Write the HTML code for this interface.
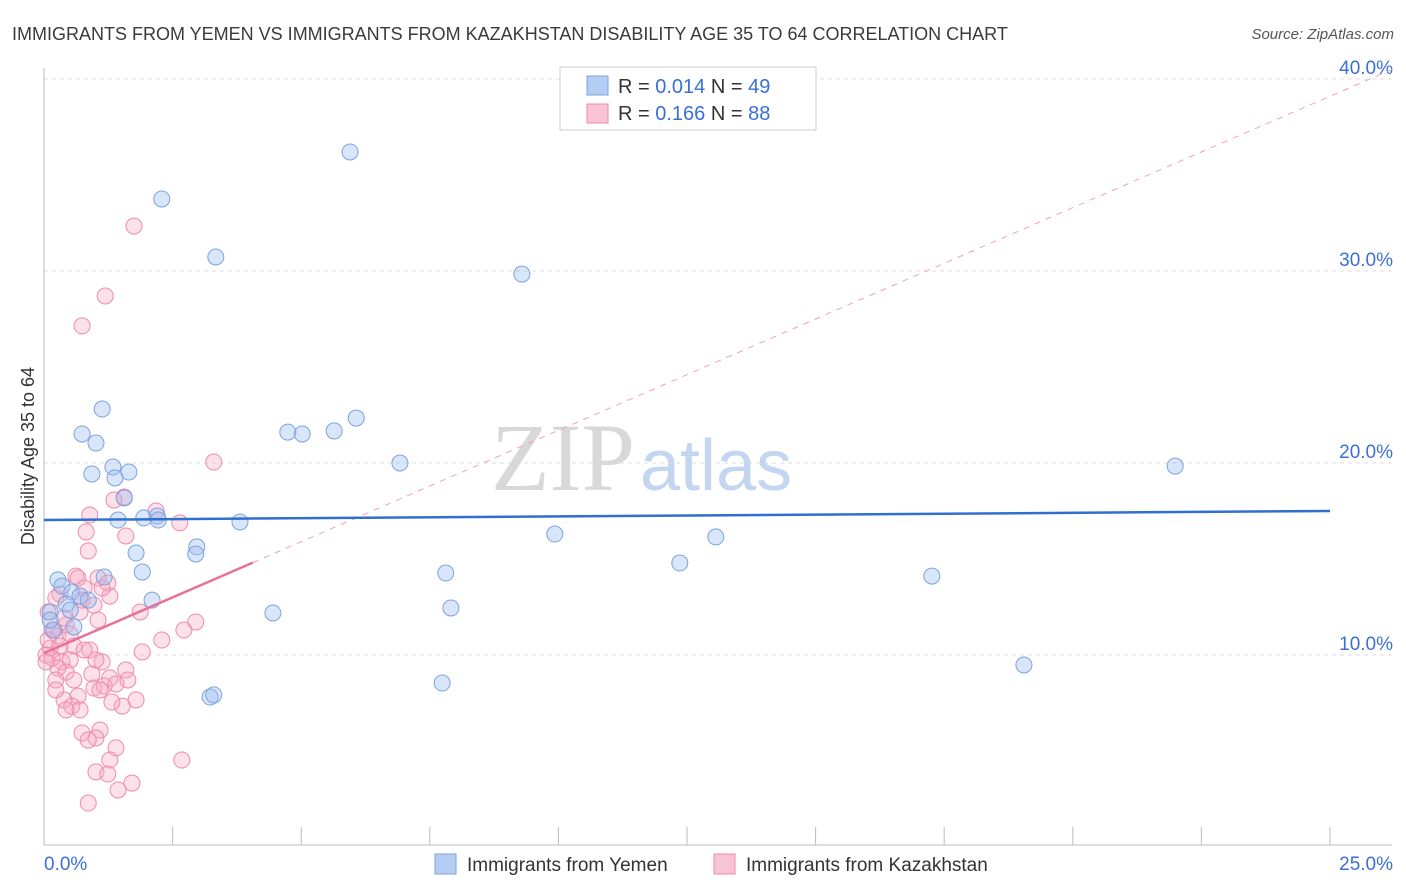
<!DOCTYPE html>
<html><head><meta charset="utf-8"><style>
body{margin:0;background:#fff;font-family:"Liberation Sans",sans-serif;}
svg{display:block}
</style></head><body>
<svg id="chart" width="1406" height="892">
<text x="12" y="40" font-size="18" fill="#3a3a3a">IMMIGRANTS FROM YEMEN VS IMMIGRANTS FROM KAZAKHSTAN DISABILITY AGE 35 TO 64 CORRELATION CHART</text>
<text x="1394" y="39" font-size="15" fill="#555" font-style="italic" text-anchor="end">Source: ZipAtlas.com</text>
<g>
<text x="635" y="490" font-size="96" font-family="Liberation Serif,serif" fill="#d8d8d8" text-anchor="end">ZIP</text>
<text x="640" y="490" font-size="72" fill="#c4d6ef" >atlas</text>
</g>
<g id="grid"></g>
<g id="axes"></g>
<g id="marks"></g>
<text transform="translate(34,456) rotate(-90)" font-size="18" fill="#333" text-anchor="middle">Disability Age 35 to 64</text>
<g>
<rect x="560" y="67" width="256" height="63" fill="#fff" stroke="#ccc"/>
<rect x="587" y="76" width="21" height="19" fill="#b6cdf3" stroke="#7aa3e0"/>
<rect x="587" y="104" width="21" height="19" fill="#f8c3d4" stroke="#f08aaa"/>
<text x="618" y="93" font-size="20" fill="#333">R = <tspan fill="#3a6fd8">0.014</tspan>   N = <tspan fill="#3a6fd8">49</tspan></text>
<text x="618" y="120" font-size="20" fill="#333">R =  <tspan fill="#3a6fd8">0.166</tspan>   N = <tspan fill="#3a6fd8">88</tspan></text>
</g>
<g>
<rect x="435" y="854" width="21" height="20" fill="#b6cdf3" stroke="#7aa3e0"/>
<text x="467" y="871" font-size="19" fill="#333">Immigrants from Yemen</text>
<rect x="714" y="854" width="21" height="20" fill="#f8c3d4" stroke="#f08aaa"/>
<text x="746" y="871" font-size="19" fill="#333">Immigrants from Kazakhstan</text>
</g>
</svg>
<script>
const yTicks=[10,20,30,40];
const yTickLabels=["10.0%","20.0%","30.0%","40.0%"];
const xTicks=[0,2.5,5,7.5,10,12.5,15,17.5,20,22.5,25];
const xTickLabels=["0.0%","25.0%"];
const blueX=[5.95,2.29,3.34,9.29,1.13,0.74,1.01,4.74,5.02,5.64,6.07,6.92,21.99,0.93,1.34,1.65,1.38,1.56,1.44,1.94,2.2,2.22,3.81,9.93,13.06,1.79,2.97,2.95,12.36,1.91,1.17,0.27,7.81,17.26,0.35,0.54,0.7,0.86,2.1,0.43,0.51,7.91,4.45,0.12,0.58,0.19,19.05,7.74,3.23,3.3,0.12];
const blueY=[36.2,33.75,30.73,29.84,22.81,21.51,21.04,21.61,21.51,21.67,22.34,20.0,19.84,19.43,19.79,19.53,19.22,18.18,17.03,17.14,17.24,17.03,16.93,16.3,16.15,15.31,15.63,15.26,14.79,14.32,14.06,13.91,14.27,14.11,13.59,13.28,13.07,12.86,12.86,12.66,12.34,12.45,12.19,12.24,11.46,11.3,9.48,8.54,7.81,7.92,11.82];
const pinkX=[1.75,1.19,0.74,3.3,1.56,1.36,2.18,2.64,0.89,0.82,1.59,0.86,0.62,1.05,1.24,0.78,0.31,0.23,0.74,1.28,0.97,0.7,1.87,0.08,2.95,1.05,2.72,0.43,0.19,0.27,0.51,2.29,0.58,0.12,0.04,1.91,0.89,0.16,0.35,0.51,0.27,1.13,1.59,0.93,0.43,0.23,0.58,1.28,0.97,1.17,1.4,1.09,0.66,0.39,0.54,0.43,0.7,1.52,1.79,1.32,1.09,1.01,0.74,0.86,1.4,1.28,1.01,1.24,2.68,1.44,1.71,0.86,0.23,0.08,0.39,1.13,0.66,0.31,0.16,1.63,0.04,0.78,1.01];
const pinkY=[32.34,28.7,27.14,20.05,18.23,18.07,17.5,16.88,17.29,16.41,16.2,15.42,14.11,14.01,13.75,13.49,13.18,12.97,12.86,13.07,12.6,12.24,12.24,12.24,11.72,11.82,11.3,11.56,11.3,10.99,11.09,10.78,10.47,10.36,10.0,10.16,10.26,9.84,9.64,9.74,9.32,9.64,9.22,9.01,9.11,8.7,8.7,8.8,8.28,8.39,8.49,8.18,7.86,7.66,7.34,7.14,7.14,7.34,7.66,7.55,6.09,5.68,5.94,5.57,5.16,4.53,3.91,3.8,4.53,2.97,3.33,2.29,8.18,10.78,11.93,13.49,14.01,10.47,11.3,8.7,9.64,10.26,9.74];
const blueTrend=[17.03,17.5];
const pinkTrend=[10.1,1.16]; // intercept, slope
const pinkSolidEnd=4.06;

const NS="http://www.w3.org/2000/svg";
const X0=44,XS=51.44,Y0=847,YS=19.2;
const xs=v=>X0+v*XS, ys=v=>Y0-v*YS;
function mk(tag,attrs,parent){const e=document.createElementNS(NS,tag);for(const k in attrs)e.setAttribute(k,attrs[k]);document.getElementById(parent).appendChild(e);return e;}
yTicks.forEach((t,i)=>{
 const g=mk('line',{x1:44,x2:1392,y1:ys(t),y2:ys(t),stroke:'#ddd','stroke-dasharray':'4,4'},'grid');
 
 
 const l=mk('text',{x:1393,y:ys(t)-5,'font-size':19,fill:'#3a6fd8','text-anchor':'end'},'axes');
 l.textContent=yTickLabels[i];
 
 
});
const ax=mk('line',{x1:44,x2:1392,y1:845,y2:845,stroke:'#bbb'},'axes');


const ay=mk('line',{x1:44,x2:44,y1:68,y2:845,stroke:'#bbb'},'axes');


xTicks.forEach(t=>{
 const k=mk('line',{x1:xs(t),x2:xs(t),y1:827,y2:845,stroke:'#bbb'},'axes');
 
 
});
const xl0=mk('text',{x:44,y:870,'font-size':19,fill:'#3a6fd8'},'axes');xl0.textContent=xTickLabels[0];


const xl1=mk('text',{x:1393,y:870,'font-size':19,fill:'#3a6fd8','text-anchor':'end'},'axes');xl1.textContent=xTickLabels[1];


pinkX.forEach((x,i)=>{
 const c=mk('circle',{cx:xs(x),cy:ys(pinkY[i]),r:8,fill:'rgba(245,170,195,0.35)',stroke:'#f08aaa','stroke-width':1},'marks');
 
 
});
blueX.forEach((x,i)=>{
 const c=mk('circle',{cx:xs(x),cy:ys(blueY[i]),r:8,fill:'rgba(160,190,240,0.4)',stroke:'#7aa3e0','stroke-width':1},'marks');
 
 
});
const xEnd=(1392-X0)/XS;
const pd=mk('line',{x1:xs(pinkSolidEnd),y1:ys(pinkTrend[0]+pinkTrend[1]*pinkSolidEnd),x2:xs(xEnd),y2:ys(pinkTrend[0]+pinkTrend[1]*xEnd),stroke:'#f0a0b8','stroke-dasharray':'6,6','stroke-width':1},'marks');


const ps=mk('line',{x1:xs(0),y1:ys(pinkTrend[0]),x2:xs(pinkSolidEnd),y2:ys(pinkTrend[0]+pinkTrend[1]*pinkSolidEnd),stroke:'#e8709a','stroke-width':2.5},'marks');


const bl=mk('line',{x1:xs(0),y1:ys(blueTrend[0]),x2:xs(25),y2:ys(blueTrend[1]),stroke:'#2f6fd0','stroke-width':2.5},'marks');


</script>
</body></html>
